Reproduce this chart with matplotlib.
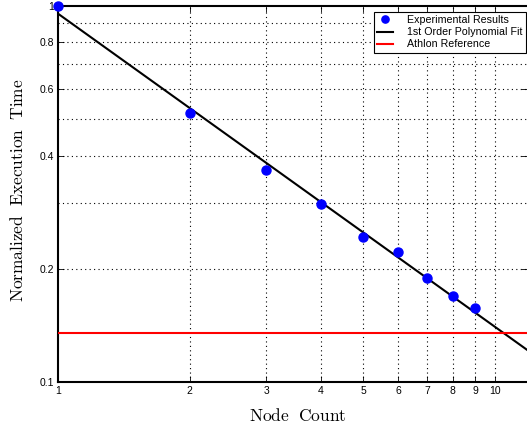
import numpy as np
import matplotlib
matplotlib.use("Agg")
import matplotlib.pyplot as plt
from matplotlib.ticker import FixedLocator, NullFormatter, NullLocator

plt.rcParams['mathtext.fontset'] = 'cm'
plt.rcParams['font.family'] = ['Liberation Sans', 'DejaVu Sans']

# data
nodes = [1, 2, 3, 4, 5, 6, 7, 8, 9]
norm_time = [1.0, 0.519, 0.367, 0.297, 0.243, 0.222, 0.1895, 0.169, 0.157]
athlon_ref = 0.1347

x_ticks = [1, 2, 3, 4, 5, 6, 7, 8, 9, 10]
y_ticks = [0.1, 0.2, 0.4, 0.6, 0.8, 1]
y_grid = [0.2, 0.3, 0.4, 0.5, 0.6, 0.7, 0.8, 0.9]

xmax = 11.84

# first order fit in log-log space
p = np.polyfit(np.log10(nodes), np.log10(norm_time), 1)
xf = np.array([1, xmax])
yf = 10 ** np.polyval(p, np.log10(xf))

fig = plt.figure(figsize=(5.27, 4.25), dpi=100)
ax = fig.add_axes([58 / 527, 43 / 425, 1 - 58 / 527, 376 / 425])

ax.plot(nodes, norm_time, 'o', color='#0000ff', markersize=6.5,
        label='Experimental Results', zorder=4, clip_on=False)
ax.plot(xf, yf, '-', color='black', lw=1.5, label='1st Order Polynomial Fit', zorder=3)
ax.axhline(athlon_ref, color='#ff0000', lw=1.5, label='Athlon Reference', zorder=3)

ax.set_xscale('log')
ax.set_yscale('log')
ax.set_xlim(1, xmax)
ax.set_ylim(0.1, 1)

ax.xaxis.set_major_locator(FixedLocator(x_ticks))
ax.set_xticklabels([str(t) for t in x_ticks])
ax.xaxis.set_minor_locator(NullLocator())
ax.yaxis.set_major_locator(FixedLocator(y_ticks))
ax.set_yticklabels(['0.1', '0.2', '0.4', '0.6', '0.8', '1'])
ax.yaxis.set_minor_locator(FixedLocator([0.3, 0.5, 0.7, 0.9]))
ax.yaxis.set_minor_formatter(NullFormatter())

ax.tick_params(which='both', direction='in', top=True, right=True,
               labelsize=7.5, length=4, width=0.6, pad=3)
ax.tick_params(which='minor', length=0)

for x in x_ticks[1:]:
    ax.axvline(x, color='black', ls=(0, (1, 3)), lw=0.8, zorder=1)
for y in y_grid:
    ax.axhline(y, color='black', ls=(0, (1, 3)), lw=0.8, zorder=1)

for s in ['left', 'bottom', 'top']:
    ax.spines[s].set_linewidth(1.5)
ax.spines['right'].set_visible(False)

ax.set_xlabel(r'$\mathrm{Node\ \ Count}$', fontsize=12.5)
ax.set_ylabel(r'$\mathrm{Normalized\ \ Execution\ \ Time}$', fontsize=12.5)
ax.xaxis.set_label_coords(0.511, -0.090)
ax.yaxis.set_label_coords(-0.086, 0.51)
ax.xaxis.label.set_va('center')
ax.yaxis.label.set_va('center')

leg = ax.legend(loc='upper right', fontsize=7.7, frameon=True, fancybox=False,
                edgecolor='black', framealpha=1, borderpad=0.3, labelspacing=0.2,
                handlelength=1.5, handletextpad=1.3, borderaxespad=0, markerscale=0.8,
                bbox_to_anchor=(526 / 527, 1 - 12 / 425), bbox_transform=fig.transFigure)
leg.get_frame().set_linewidth(0.8)

fig.savefig('out.png', dpi=100)
